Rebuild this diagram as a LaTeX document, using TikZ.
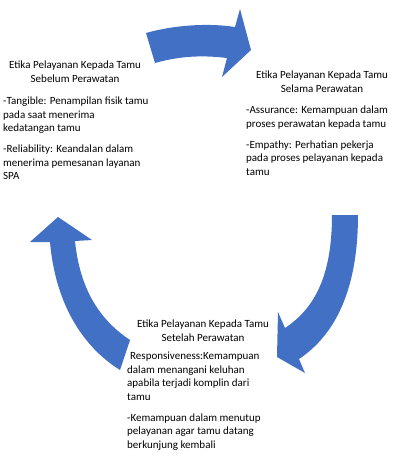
\documentclass[tikz,border=0pt]{standalone}
\usepackage{fontspec}
\setmainfont{Carlito}
\definecolor{arrowblue}{RGB}{66,112,196}
\begin{document}
\begin{tikzpicture}[x=1pt,y=-1pt,
  blockarrow/.style={fill=arrowblue,draw=none},
  txt/.style={font=\fontsize{11}{13.5}\selectfont,inner sep=0pt,text=black},
  ttl/.style={txt,align=center,anchor=north},
  bul/.style={txt,align=left,anchor=north west}]
\useasboundingbox (0,0) rectangle (401,459);
% arrows
\path[blockarrow] (155,63) -- (146,33) .. controls (175,24.7) and (210,23) .. (235,27)
  -- (240,9) -- (251,50) -- (222,77) -- (227,58)
  .. controls (202,55) and (180,56) .. (155,63) -- cycle;
\path[blockarrow] (332,215) -- (358,215) .. controls (358,290) and (335,335) .. (299,359)
  -- (305,373) -- (277,357) -- (278,312) -- (285,328)
  .. controls (312,310) and (332,280) .. (332,215) -- cycle;
\path[blockarrow] (120,370) -- (130,340) .. controls (100,320) and (80,290) .. (75,241)
  -- (92,240) -- (58,217) -- (30,242) -- (50,242)
  .. controls (55,300) and (80,345) .. (120,370) -- cycle;
% texts
\node[ttl] (t1) at (75,59.2) {\strut Etika Pelayanan Kepada Tamu\\Sebelum Perawatan};
\node[bul] (b1) at (3,95.2) {\strut -Tangible: Penampilan fisik tamu\\pada saat menerima\\kedatangan tamu\\[7.5pt]-Reliability: Keandalan dalam\\menerima pemesanan layanan\\SPA};
\node[ttl] (t2) at (322,69.2) {\strut Etika Pelayanan Kepada Tamu\\Selama Perawatan};
\node[bul] (b2) at (246,104.2) {\strut -Assurance: Kemampuan dalam\\proses perawatan kepada tamu\\[7.5pt]-Empathy: Perhatian pekerja\\pada proses pelayanan kepada\\tamu};
\node[ttl] (t3) at (203,318.2) {\strut Etika Pelayanan Kepada Tamu\\Setelah Perawatan};
\node[bul] (b3) at (127,350.2) {\strut\hspace*{3pt}Responsiveness:Kemampuan\\dalam menangani keluhan\\apabila terjadi komplin dari\\tamu\\[7.5pt]-Kemampuan dalam menutup\\pelayanan agar tamu datang\\berkunjung kembali};
\end{tikzpicture}
\end{document}
